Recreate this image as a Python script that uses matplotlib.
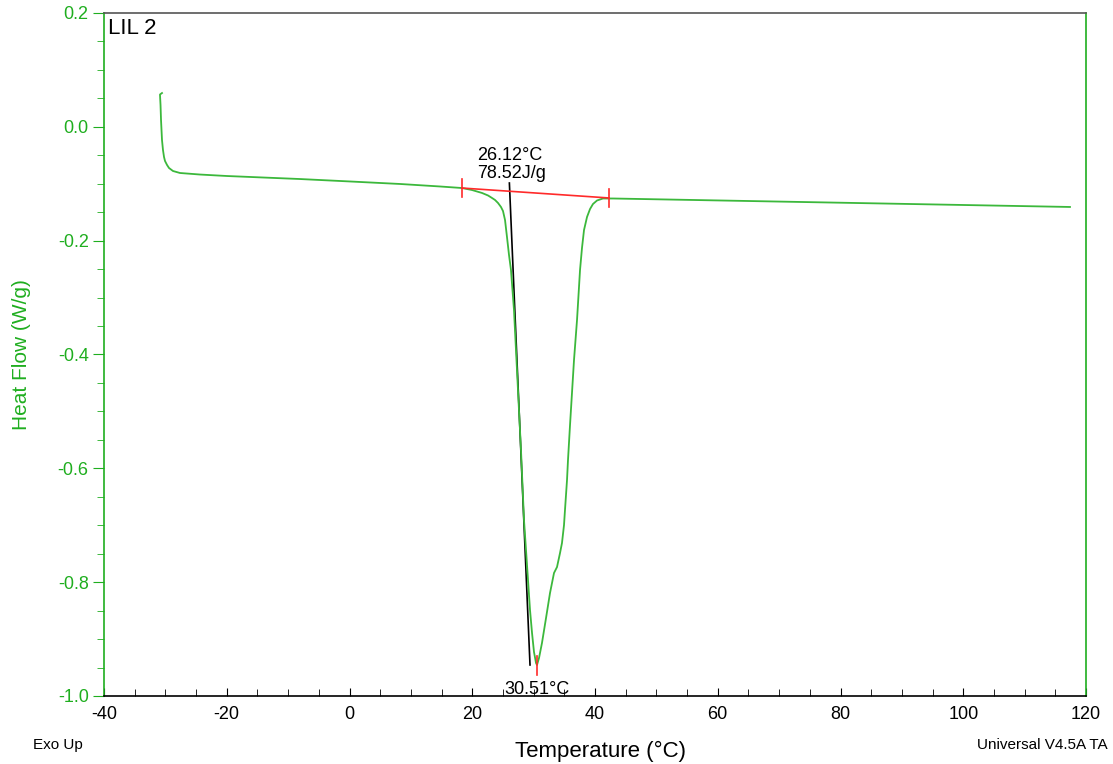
import matplotlib
matplotlib.use("Agg")
import matplotlib.pyplot as plt
from matplotlib.ticker import MultipleLocator, FormatStrFormatter

plt.rcParams['font.family'] = ['Liberation Sans', 'DejaVu Sans']
plt.rcParams['axes.unicode_minus'] = False

# DSC curve (Temperature °C, Heat flow W/g)
temp = [-30.55, -30.88, -30.79, -30.71, -30.55, -30.39, -30.22, -30.06, -29.73, -29.41, -28.76,
        -27.62, -24.36, -19.96, -8.07, 0.08, 8.23, 14.75,
        18.33, 19.96, 21.59, 22.57, 23.22, 23.71, 24.20, 24.68, 25.01, 25.34, 25.66, 25.99,
        26.31, 26.80, 27.29, 27.94, 28.43, 28.92, 29.41, 29.74, 30.06, 30.39, 30.55,
        30.88, 31.36, 32.02, 32.67, 33.32, 33.81, 34.30, 34.62, 34.95, 35.11, 35.44, 35.60,
        35.93, 36.25, 36.58, 37.07, 37.56, 37.88, 38.21, 38.70, 39.19, 39.67, 40.33, 41.30,
        42.93, 117.39]
heat = [0.0594, 0.0568, 0.0384, 0.012, -0.0231, -0.0407, -0.053, -0.060, -0.067, -0.0723, -0.0776,
        -0.0811, -0.0838, -0.0864, -0.0917, -0.0960, -0.1004, -0.1048,
        -0.1075, -0.1110, -0.1162, -0.1206, -0.1250, -0.1285, -0.1338, -0.1408, -0.1479, -0.1637, -0.1936, -0.2252,
        -0.2515, -0.3218, -0.4272, -0.5678, -0.6908, -0.7698, -0.8489, -0.8893, -0.9227, -0.9420, -0.9455,
        -0.9332, -0.9069, -0.8630, -0.8190, -0.7839, -0.7734, -0.7488, -0.7312, -0.6996, -0.6732, -0.6205, -0.5854,
        -0.5239, -0.4676, -0.4096, -0.3394, -0.2515, -0.2129, -0.1813, -0.1584, -0.1444, -0.1356, -0.1294, -0.1259,
        -0.1259, -0.1408]

# integration baseline limits and onset tangent
base_t = [18.3, 42.3]
base_y = [-0.1075, -0.125]
tan_t = [26.05, 29.41]
tan_y = [-0.0987, -0.9455]
peak_t = 30.51
peak_y = -0.9455

onset_label = "26.12°C\n78.52J/g"
peak_label = "30.51°C"
sample_name = "LIL 2"

green = '#1fae1f'
curve_green = '#3cb83c'
red = '#ff2a2a'

fig = plt.figure(figsize=(11.13, 7.64), dpi=100)
ax = fig.add_axes([104/1113, 1-696/764, (1086-104)/1113, (696-13)/764])

ax.plot(temp, heat, color=curve_green, lw=1.3, zorder=3, solid_joinstyle='round')
ax.plot(base_t, base_y, color=red, lw=1.2, zorder=4)
for t, y in zip(base_t, base_y):
    ax.plot([t, t], [y - 0.015, y + 0.015], color=red, lw=1.2, zorder=4)
ax.plot([peak_t, peak_t], [peak_y - 0.017, peak_y + 0.015], color=red, lw=1.2, zorder=4)
ax.plot(tan_t, tan_y, color='black', lw=1.2, zorder=2)

ax.text(20.8, -0.036, onset_label, fontsize=13, ha='left', va='top', linespacing=1.05)
ax.text(peak_t, -0.988, peak_label, fontsize=13, ha='center', va='center')
ax.text(0.004, 0.993, sample_name, transform=ax.transAxes, fontsize=16, ha='left', va='top')

ax.set_xlim(-40, 120)
ax.set_ylim(-1.0, 0.2)
ax.xaxis.set_major_locator(MultipleLocator(20))
ax.xaxis.set_minor_locator(MultipleLocator(5))
ax.yaxis.set_major_locator(MultipleLocator(0.2))
ax.yaxis.set_minor_locator(MultipleLocator(0.05))
ax.yaxis.set_major_formatter(FormatStrFormatter('%.1f'))

ax.tick_params(axis='x', which='both', direction='in', labelsize=13, colors='black', pad=7)
ax.tick_params(axis='x', which='major', length=6)
ax.tick_params(axis='x', which='minor', length=5)
ax.tick_params(axis='y', which='both', direction='out', labelsize=13, colors=green, pad=3)
ax.tick_params(axis='y', which='major', length=8)
ax.tick_params(axis='y', which='minor', length=5)

ax.spines['left'].set_color(green)
ax.spines['right'].set_color(green)
ax.spines['top'].set_color('#555555')
ax.spines['bottom'].set_color('black')
for s in ax.spines.values():
    s.set_linewidth(1.2)

ax.set_xlabel('Temperature (°C)', fontsize=16)
ax.xaxis.set_label_coords(0.506, -(757 - 696) / (696 - 13), transform=ax.transAxes)
ax.xaxis.label.set_va('baseline')
ax.set_ylabel('Heat Flow (W/g)', fontsize=15, color=green)
ax.yaxis.set_label_coords(-(104 - 22) / (1086 - 104), 0.5)
ax.yaxis.label.set_va('center')

fig.text(33/1113, 1-745/764, 'Exo Up', fontsize=11, ha='left', va='center')
fig.text(1108/1113, 1-745/764, 'Universal V4.5A TA', fontsize=11, ha='right', va='center')

fig.savefig('out.png', dpi=100)
